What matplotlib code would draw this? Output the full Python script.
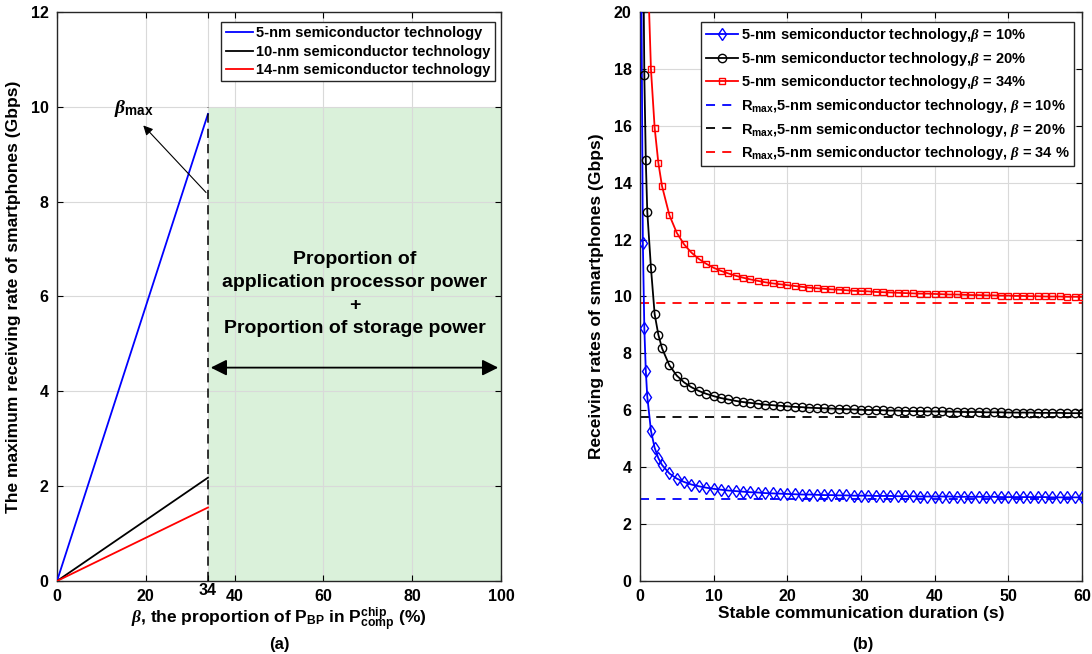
import matplotlib
matplotlib.use("Agg")
import matplotlib.pyplot as plt

plt.rcParams['font.family'] = ['Liberation Sans', 'DejaVu Sans']
plt.rcParams['font.weight'] = 'bold'
plt.rcParams['axes.labelweight'] = 'bold'
plt.rcParams['font.size'] = 10
plt.rcParams['mathtext.fontset'] = 'custom'
plt.rcParams['mathtext.rm'] = 'Liberation Sans:bold'
plt.rcParams['mathtext.bf'] = 'Liberation Sans:bold'
plt.rcParams['mathtext.it'] = 'Liberation Serif:italic'

# (a) max receiving rate vs beta (linear up to beta_max = 34 %)
beta = [0, 34]
rate_5nm = [0, 9.85]
rate_10nm = [0, 2.18]
rate_14nm = [0, 1.55]
beta_max = 34
region_top = 10
tech_labels = ['5-nm semiconductor technology',
               '10-nm semiconductor technology',
               '14-nm semiconductor technology']
xticks_a = [0, 20, 34, 40, 60, 80, 100]

# (b) receiving rate vs stable communication duration
t = [0.2, 0.4, 0.6, 0.8, 1.0, 1.5, 2, 2.5, 3] + list(range(4, 61))
r_b10 = [20.88, 11.88, 8.88, 7.38, 6.48, 5.28, 4.68, 4.32, 4.08,
         3.78, 3.60, 3.48, 3.39, 3.33, 3.28, 3.24, 3.21, 3.18, 3.16,
         3.14, 3.12, 3.11, 3.09, 3.08, 3.07, 3.06, 3.05, 3.04, 3.04,
         3.03, 3.02, 3.02, 3.01, 3.01, 3.00, 3.00, 3.00, 2.99, 2.99,
         2.99, 2.98, 2.98, 2.98, 2.97, 2.97, 2.97, 2.97, 2.97, 2.96,
         2.96, 2.96, 2.96, 2.96, 2.96, 2.95, 2.95, 2.95, 2.95, 2.95,
         2.95, 2.95, 2.94, 2.94, 2.94, 2.94, 2.94]
r_b20 = [41.78, 23.78, 17.78, 14.78, 12.98, 11.0, 9.38, 8.66, 8.18,
         7.58, 7.22, 6.98, 6.81, 6.68, 6.58, 6.50, 6.43, 6.38, 6.33,
         6.29, 6.26, 6.23, 6.20, 6.18, 6.16, 6.14, 6.12, 6.11, 6.09,
         6.08, 6.07, 6.06, 6.05, 6.04, 6.03, 6.02, 6.01, 6.01, 6.00,
         5.99, 5.99, 5.98, 5.97, 5.97, 5.96, 5.96, 5.96, 5.95, 5.95,
         5.94, 5.94, 5.94, 5.93, 5.93, 5.93, 5.92, 5.92, 5.92, 5.92,
         5.91, 5.91, 5.91, 5.91, 5.90, 5.90, 5.90]
r_b34 = [71.3, 40.5, 30.28, 25.16, 22.08, 17.98, 15.93, 14.70, 13.88,
         12.86, 12.24, 11.83, 11.54, 11.32, 11.15, 11.01, 10.90, 10.81, 10.73,
         10.66, 10.60, 10.55, 10.50, 10.46, 10.43, 10.40, 10.37, 10.34, 10.31,
         10.29, 10.27, 10.25, 10.24, 10.22, 10.20, 10.19, 10.18, 10.16, 10.15,
         10.14, 10.13, 10.12, 10.11, 10.10, 10.10, 10.09, 10.08, 10.07, 10.07,
         10.06, 10.05, 10.05, 10.04, 10.04, 10.03, 10.03, 10.02, 10.02, 10.01,
         10.01, 10.00, 10.00, 10.00, 9.99, 9.99, 9.99]
rmax_b10 = 2.88
rmax_b20 = 5.78
rmax_b34 = 9.78
b_labels = [r'5-nm semiconductor technology,$\it{\beta}$ = 10%',
            r'5-nm semiconductor technology,$\it{\beta}$ = 20%',
            r'5-nm semiconductor technology,$\it{\beta}$ = 34%',
            r'R$_{\rm max}$,5-nm semiconductor technology, $\it{\beta}$ = 10%',
            r'R$_{\rm max}$,5-nm semiconductor technology, $\it{\beta}$ = 20%',
            r'R$_{\rm max}$,5-nm semiconductor technology, $\it{\beta}$ = 34 %']

fig = plt.figure(figsize=(10.92, 6.54), dpi=100)
ax1 = fig.add_axes([0.0522, 0.1116, 0.4066, 0.8701])
ax2 = fig.add_axes([0.586, 0.1116, 0.4048, 0.8701])


def matlab_style(ax):
    ax.grid(True, color='#d9d9d9', lw=0.8)
    ax.tick_params(direction='in', top=True, right=True, length=4,
                   width=0.8, labelsize=11.5, pad=6)
    for s in ax.spines.values():
        s.set_linewidth(1.0)
        s.set_color('#262626')
    for lab in ax.get_xticklabels() + ax.get_yticklabels():
        lab.set_fontweight('bold')


# ---- (a)
ax1.fill_between([beta_max, 100], 0, region_top, color=(0.2, 0.7, 0.2, 0.18),
                 lw=0, zorder=1)
ax1.plot(beta, rate_5nm, color='b', lw=1.3, label=tech_labels[0], zorder=3)
ax1.plot(beta, rate_10nm, color='k', lw=1.3, label=tech_labels[1], zorder=3)
ax1.plot(beta, rate_14nm, color='r', lw=1.3, label=tech_labels[2], zorder=3)
ax1.plot([beta_max, beta_max], [0, region_top], color='k', ls=(0, (6, 4)),
         lw=1.1, zorder=3)
ax1.annotate('', xy=(19, 9.65), xytext=(beta_max, 8.15),
             arrowprops=dict(arrowstyle='-|>', color='k', lw=0.8,
                             mutation_scale=14))
ax1.text(17.3, 9.75, r'$\it{\beta}_{\rm max}$', fontsize=14, ha='center',
         va='bottom')
ax1.annotate('', xy=(100, 4.5), xytext=(beta_max, 4.5),
             arrowprops=dict(arrowstyle='<|-|>', color='k', lw=1.3,
                             mutation_scale=24))
ax1.text(67, 6.05, 'Proportion of\napplication processor power\n+\n'
         'Proportion of storage power', ha='center', va='center',
         fontsize=14, linespacing=1.45)
ax1.set_xlim(0, 100)
ax1.set_ylim(0, 12)
ax1.set_xticks(xticks_a)
ax1.set_yticks(range(0, 13, 2))
ax1.set_xlabel(r'$\it{\beta}$, the proportion of P$_{\rm BP}$ in '
               r'P$^{\rm chip}_{\rm comp}$ (%)', fontsize=12.5, labelpad=1)
ax1.set_ylabel('The maximum receiving rate of smartphones (Gbps)',
               fontsize=12.5, labelpad=7)
ax1.legend(loc='upper right', bbox_to_anchor=(0.99, 0.985), fontsize=10.5,
           handlelength=1.9, handletextpad=0.2, borderpad=0.3,
           borderaxespad=0.1, labelspacing=0.3, fancybox=False,
           edgecolor='#262626', framealpha=1)
matlab_style(ax1)
for lab in ax1.get_xticklabels():
    if lab.get_text() == '34':
        lab.set_y(0.012)
fig.text(0.2555, 0.008, '(a)', ha='center', fontsize=12)

# ---- (b)
ax2.plot(t, r_b10, color='b', lw=1.3, marker='d', ms=6, mfc='none',
         mew=1.0, label=b_labels[0], zorder=3)
ax2.plot(t, r_b20, color='k', lw=1.3, marker='o', ms=6, mfc='none',
         mew=1.0, label=b_labels[1], zorder=3)
ax2.plot(t, r_b34, color='r', lw=1.3, marker='s', ms=5, mfc='none',
         mew=1.0, label=b_labels[2], zorder=3)
ax2.plot([0, 60], [rmax_b10] * 2, color='b', ls=(0, (5, 4)), lw=1.3,
         label=b_labels[3])
ax2.plot([0, 60], [rmax_b20] * 2, color='k', ls=(0, (5, 4)), lw=1.3,
         label=b_labels[4])
ax2.plot([0, 60], [rmax_b34] * 2, color='r', ls=(0, (5, 4)), lw=1.3,
         label=b_labels[5])
ax2.set_xlim(0, 60)
ax2.set_ylim(0, 20)
ax2.set_xticks(range(0, 61, 10))
ax2.set_yticks(range(0, 21, 2))
ax2.set_xlabel('Stable communication duration (s)', fontsize=12.5,
               labelpad=1)
ax2.set_ylabel('Receiving rates of smartphones (Gbps)', fontsize=12.5,
               labelpad=7)
ax2.legend(loc='upper right', bbox_to_anchor=(0.985, 0.985), fontsize=10.5,
           handlelength=2.2, handletextpad=0.2, borderpad=0.3,
           borderaxespad=0.1, labelspacing=0.38, fancybox=False,
           edgecolor='#262626', framealpha=1)
matlab_style(ax2)
fig.text(0.79, 0.008, '(b)', ha='center', fontsize=12)

fig.savefig('out.png', dpi=100)
